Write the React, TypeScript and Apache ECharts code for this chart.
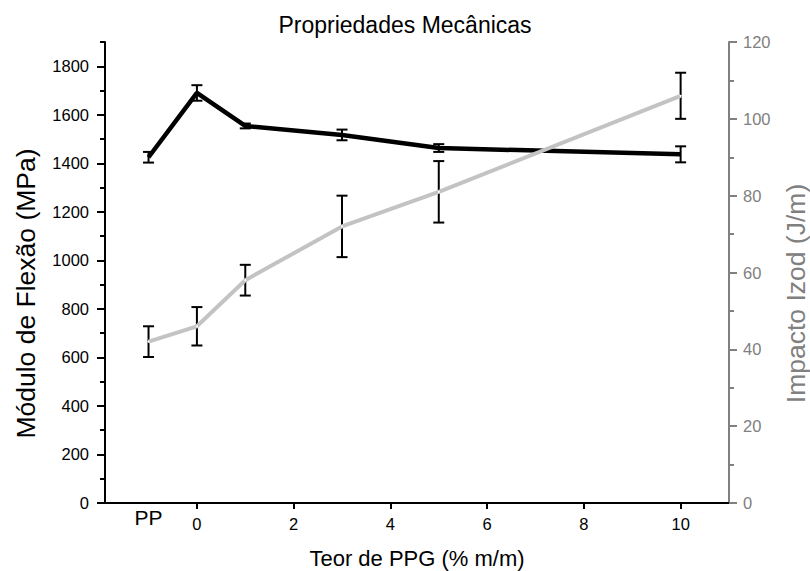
import React, { useEffect, useRef } from "react";
import * as echarts from "echarts";

const xValues = [-1, 0, 1, 3, 5, 10];
const flexao = [1425, 1690, 1554, 1517, 1463, 1437];
const flexaoErr = [22, 32, 10, 22, 16, 33];
const izod = [42, 46, 58, 72, 81, 106];
const izodErr = [4, 5, 4, 8, 8, 6];
const xTickValues = [0, 2, 4, 6, 8, 10];
const leftMajor = [0, 200, 400, 600, 800, 1000, 1200, 1400, 1600, 1800];
const leftMinor = [100, 300, 500, 700, 900, 1100, 1300, 1500, 1700, 1900];
const rightMajor = [0, 20, 40, 60, 80, 100, 120];
const rightMinor = [10, 30, 50, 70, 90, 110];

const FONT = "'Liberation Sans', Arial, sans-serif";

export default function App() {
  const ref = useRef<HTMLDivElement>(null);
  useEffect(() => {
    if (!ref.current) return;
    const chart = echarts.init(ref.current, null, { renderer: "svg" });
    const errData = (vals: number[], errs: number[]) =>
      xValues.map((x, i) => [x, vals[i] - errs[i], vals[i] + errs[i]]);
    const errRender = (params: any, api: any) => {
      const x = api.value(0);
      const lo = api.coord([x, api.value(1)]);
      const hi = api.coord([x, api.value(2)]);
      const hw = 5.5;
      const style = { stroke: "#000", lineWidth: 2 };
      return {
        type: "group",
        children: [
          { type: "line", shape: { x1: lo[0], y1: lo[1], x2: hi[0], y2: hi[1] }, style },
          { type: "line", shape: { x1: lo[0] - hw, y1: lo[1], x2: lo[0] + hw, y2: lo[1] }, style },
          { type: "line", shape: { x1: hi[0] - hw, y1: hi[1], x2: hi[0] + hw, y2: hi[1] }, style },
        ],
      };
    };
    const grey = "#808080";
    const plain = (v: number) => String(v);
    chart.setOption({
      animation: false,
      textStyle: { fontFamily: FONT },
      title: {
        text: "Propriedades Mecânicas",
        left: "center",
        top: 8,
        textStyle: { fontFamily: FONT, fontSize: 23, fontWeight: "normal", color: "#000" },
      },
      grid: { left: 105, right: 81, top: 42, bottom: 68, containLabel: false, outerBoundsMode: "none" },
      xAxis: [
        {
          type: "value",
          min: -1.9,
          max: 11,
          splitLine: { show: false },
          axisLine: { show: true, onZero: false, lineStyle: { color: "#000", width: 2 } },
          axisTick: { show: true, customValues: xTickValues, length: 6, lineStyle: { color: "#000", width: 2 } },
          axisLabel: { customValues: xTickValues, formatter: plain, color: "#000", fontSize: 16.5, margin: 12, fontFamily: FONT },
          name: "Teor de PPG (% m/m)",
          nameLocation: "middle",
          nameGap: 44,
          nameTextStyle: { fontSize: 22, color: "#000", fontFamily: FONT },
        },
        {
          type: "value",
          min: -1.9,
          max: 11,
          position: "bottom",
          splitLine: { show: false },
          axisLine: { show: false, onZero: false },
          axisTick: { show: false },
          axisLabel: { customValues: [-1], formatter: () => "PP", color: "#000", fontSize: 21, margin: 4, fontFamily: FONT },
        },
      ],
      yAxis: [
        {
          type: "value",
          min: 0,
          max: 1900,
          position: "left",
          splitLine: { show: false },
          axisLine: { show: true, onZero: false, lineStyle: { color: "#000", width: 2 } },
          axisTick: { show: true, customValues: leftMajor, length: 8, lineStyle: { color: "#000", width: 2 } },
          axisLabel: { customValues: leftMajor, formatter: plain, color: "#000", fontSize: 16.5, margin: 16, fontFamily: FONT },
          name: "Módulo de Flexão (MPa)",
          nameLocation: "middle",
          nameGap: 66,
          nameTextStyle: { fontSize: 26.5, color: "#000", fontFamily: FONT, padding: [0, 42, 0, 0] },
        },
        {
          type: "value",
          min: 0,
          max: 120,
          position: "right",
          splitLine: { show: false },
          axisLine: { show: true, onZero: false, lineStyle: { color: grey, width: 2 } },
          axisTick: { show: true, customValues: rightMajor, length: 8, lineStyle: { color: grey, width: 2 } },
          axisLabel: { customValues: rightMajor, formatter: plain, color: grey, fontSize: 16.5, margin: 14, fontFamily: FONT },
          name: "Impacto Izod (J/m)",
          nameLocation: "middle",
          nameGap: 53,
          nameRotate: 90,
          nameTextStyle: { fontSize: 26.5, color: grey, fontFamily: FONT, padding: [0, 42, 0, 0] },
        },
        {
          type: "value",
          min: 0,
          max: 1900,
          position: "left",
          splitLine: { show: false },
          axisLine: { show: false, onZero: false },
          axisTick: { show: true, customValues: leftMinor, length: 5, lineStyle: { color: "#000", width: 2 } },
          axisLabel: { show: false },
        },
        {
          type: "value",
          min: 0,
          max: 120,
          position: "right",
          splitLine: { show: false },
          axisLine: { show: false, onZero: false },
          axisTick: { show: true, customValues: rightMinor, length: 5, lineStyle: { color: grey, width: 2 } },
          axisLabel: { show: false },
        },
      ],
      series: [
        {
          name: "Módulo de Flexão",
          type: "line",
          xAxisIndex: 0,
          yAxisIndex: 0,
          data: xValues.map((x, i) => [x, flexao[i]]),
          showSymbol: false,
          lineStyle: { color: "#000", width: 4.5 },
          z: 3,
        },
        {
          name: "Impacto Izod",
          type: "line",
          xAxisIndex: 0,
          yAxisIndex: 1,
          data: xValues.map((x, i) => [x, izod[i]]),
          symbol: "circle",
          symbolSize: 2,
          itemStyle: { color: "#fff", borderWidth: 0 },
          lineStyle: { color: "#c3c3c3", width: 4 },
          z: 4,
        },
        {
          type: "custom",
          xAxisIndex: 0,
          yAxisIndex: 0,
          data: errData(flexao, flexaoErr),
          renderItem: errRender,
          z: 2,
        },
        {
          type: "custom",
          xAxisIndex: 0,
          yAxisIndex: 1,
          data: errData(izod, izodErr),
          renderItem: errRender,
          z: 2,
        },
      ],
    });
    return () => chart.dispose();
  }, []);
  return (
    <div
      ref={ref}
      style={{ position: "absolute", left: 0, top: 0, width: 810, height: 571 }}
    />
  );
}
